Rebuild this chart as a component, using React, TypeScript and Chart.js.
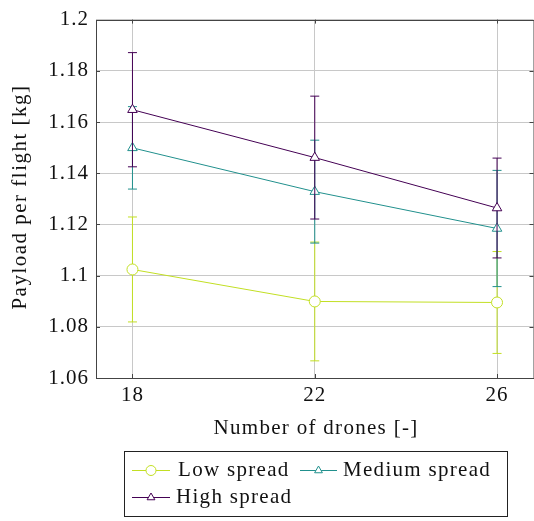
import React, { useEffect, useRef } from "react";
import { Chart, registerables } from "chart.js";
Chart.register(...registerables);

const drones = [18, 22, 26];
const lowMean = [1.1024, 1.0899, 1.0895];
const lowStd = [0.0205, 0.0232, 0.0199];
const medMean = [1.1499, 1.1328, 1.1184];
const medStd = [0.0161, 0.0201, 0.0227];
const highMean = [1.1648, 1.1461, 1.1264];
const highStd = [0.0223, 0.024, 0.0195];
const yTicks = [1.06, 1.08, 1.1, 1.12, 1.14, 1.16, 1.18, 1.2];

const LOW = "#c2df23";
const MED = "#21908d";
const HIGH = "#440154";
const FONT = "Liberation Serif";

const series = [
  { label: "Low spread", mean: lowMean, std: lowStd, color: LOW, style: "circle", r: 5.5, order: 3 },
  { label: "Medium spread", mean: medMean, std: medStd, color: MED, style: "triangle", r: 5.5, order: 2 },
  { label: "High spread", mean: highMean, std: highStd, color: HIGH, style: "triangle", r: 5.5, order: 1 },
];

const errorBars = {
  id: "errorBars",
  beforeDatasetDraw(chart: any, args: any) {
    const s = series[args.index];
    const ctx = chart.ctx;
    const xs = chart.scales.x;
    const ys = chart.scales.y;
    ctx.save();
    ctx.strokeStyle = s.color;
    ctx.lineWidth = 1;
    drones.forEach((d, i) => {
      const x = xs.getPixelForValue(d);
      const y1 = ys.getPixelForValue(s.mean[i] + s.std[i]);
      const y2 = ys.getPixelForValue(s.mean[i] - s.std[i]);
      ctx.beginPath();
      ctx.moveTo(x, y1);
      ctx.lineTo(x, y2);
      ctx.moveTo(x - 4.5, y1);
      ctx.lineTo(x + 4.5, y1);
      ctx.moveTo(x - 4.5, y2);
      ctx.lineTo(x + 4.5, y2);
      ctx.stroke();
    });
    ctx.restore();
  },
};

function drawMarker(ctx: any, style: string, x: number, y: number, r: number, color: string) {
  ctx.save();
  ctx.strokeStyle = color;
  ctx.fillStyle = "#fff";
  ctx.lineWidth = 1;
  ctx.beginPath();
  if (style === "circle") {
    ctx.arc(x, y, r, 0, Math.PI * 2);
  } else {
    ctx.moveTo(x, y - r);
    ctx.lineTo(x + r * 0.866, y + r * 0.5);
    ctx.lineTo(x - r * 0.866, y + r * 0.5);
    ctx.closePath();
  }
  ctx.fill();
  ctx.stroke();
  ctx.restore();
}

const spacing = {
  id: "spacing",
  beforeDraw(chart: any) {
    chart.ctx.letterSpacing = "1px";
  },
};

const decorations = {
  id: "decorations",
  afterDraw(chart: any) {
    const ctx = chart.ctx;
    const a = chart.chartArea;
    const xs = chart.scales.x;
    const ys = chart.scales.y;
    ctx.save();
    ctx.letterSpacing = "0px";
    // border
    ctx.strokeStyle = "#444";
    ctx.lineWidth = 1;
    ctx.strokeRect(Math.round(a.left) + 0.5, Math.round(a.top) + 0.5, a.right - a.left, Math.round(a.bottom) - Math.round(a.top));
    // inward ticks
    ctx.beginPath();
    yTicks.forEach((v) => {
      const y = Math.round(ys.getPixelForValue(v)) + 0.5;
      ctx.moveTo(a.left, y);
      ctx.lineTo(a.left + 4, y);
      ctx.moveTo(a.right, y);
      ctx.lineTo(a.right - 4, y);
    });
    drones.forEach((v) => {
      const x = Math.round(xs.getPixelForValue(v)) + 0.5;
      ctx.moveTo(x, a.bottom);
      ctx.lineTo(x, a.bottom - 4);
      ctx.moveTo(x, a.top);
      ctx.lineTo(x, a.top + 4);
    });
    ctx.stroke();
    // titles
    ctx.fillStyle = "#111";
    ctx.font = `21px "${FONT}"`;
    ctx.textAlign = "center";
    ctx.textBaseline = "middle";
    ctx.letterSpacing = "1.3px";
    ctx.fillText("Number of drones [-]", 316, 428);
    ctx.save();
    ctx.translate(20, 197);
    ctx.rotate(-Math.PI / 2);
    ctx.letterSpacing = "1.5px";
    ctx.fillText("Payload per flight [kg]", 0, 0);
    ctx.restore();
    // legend
    ctx.letterSpacing = "0px";
    ctx.strokeStyle = "#222";
    ctx.strokeRect(124.5, 451.5, 383, 65);
    const items = [
      { s: series[0], x0: 132, x1: 170, tx: 178, y: 470 },
      { s: series[1], x0: 300, x1: 337, tx: 343, y: 470 },
      { s: series[2], x0: 132, x1: 170, tx: 176, y: 497 },
    ];
    ctx.textAlign = "left";
    items.forEach((it) => {
      ctx.letterSpacing = "0px";
      ctx.strokeStyle = it.s.color;
      ctx.lineWidth = 1;
      ctx.beginPath();
      ctx.moveTo(it.x0, it.y + 0.5);
      ctx.lineTo(it.x1, it.y + 0.5);
      ctx.stroke();
      drawMarker(ctx, it.s.style, (it.x0 + it.x1) / 2, it.y + 0.5, it.s.style === "circle" ? 5 : 4.5, it.s.color);
      ctx.fillStyle = "#111";
      ctx.letterSpacing = "1.3px";
      ctx.fillText(it.s.label, it.tx, it.y);
    });
    ctx.restore();
  },
};

export default function App() {
  const ref = useRef<HTMLCanvasElement | null>(null);
  useEffect(() => {
    if (!ref.current) return;
    const chart = new Chart(ref.current, {
      type: "line",
      data: {
        datasets: series.map((s) => ({
          label: s.label,
          data: drones.map((d, i) => ({ x: d, y: s.mean[i] })),
          borderColor: s.color,
          backgroundColor: "#fff",
          borderWidth: 1,
          pointStyle: s.style as any,
          pointRadius: s.r,
          pointBorderWidth: 1,
          pointBackgroundColor: "#fff",
          pointBorderColor: s.color,
          tension: 0,
          order: s.order,
        })),
      },
      options: {
        animation: false,
        responsive: false,
        devicePixelRatio: 1,
        layout: { padding: { top: 12, left: 0, right: 3.4, bottom: 0 } },
        plugins: { legend: { display: false }, tooltip: { enabled: false } },
        scales: {
          x: {
            type: "linear",
            min: 17.2,
            max: 26.8,
            afterBuildTicks: (scale: any) => {
              scale.ticks = drones.map((v) => ({ value: v }));
            },
            afterFit: (scale: any) => {
              scale.height = 143;
            },
            ticks: {
              color: "#111",
              font: { family: FONT, size: 21 },
              padding: 5,
              maxRotation: 0,
              callback: (v: any) => String(v),
            },
            grid: { color: "#c8c8c8", lineWidth: 1, drawTicks: false },
            border: { display: false },
          },
          y: {
            type: "linear",
            min: 1.06,
            max: 1.2,
            afterBuildTicks: (scale: any) => {
              scale.ticks = yTicks.map((v) => ({ value: v }));
            },
            afterFit: (scale: any) => {
              scale.width = 96;
            },
            ticks: {
              color: "#111",
              font: { family: FONT, size: 21 },
              padding: 7,
              callback: (v: any) => String(parseFloat(Number(v).toFixed(2))),
            },
            grid: { color: "#c8c8c8", lineWidth: 1, drawTicks: false },
            border: { display: false },
          },
        },
      },
      plugins: [spacing, errorBars, decorations],
    });
    return () => chart.destroy();
  }, []);
  return (
    <div style={{ position: "fixed", left: 0, top: 0, width: 534, height: 521, overflow: "hidden", background: "#fff" }}>
      <canvas ref={ref} width={540} height={521} style={{ width: 540, height: 521, display: "block" }} />
    </div>
  );
}
